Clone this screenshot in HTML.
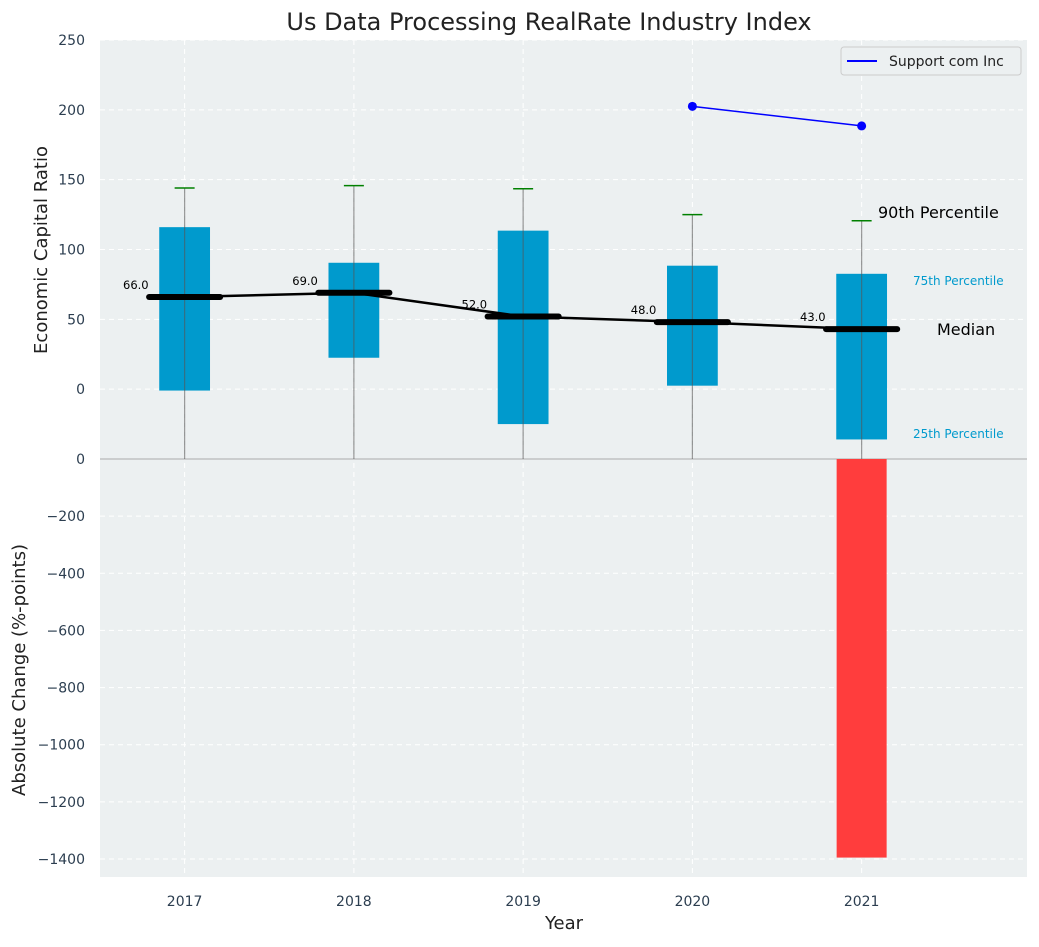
<!DOCTYPE html>
<html><head><meta charset="utf-8"><style>
body{margin:0;background:#fff;font-family:"Liberation Sans","DejaVu Sans",sans-serif}
svg text{font-family:"DejaVu Sans","Liberation Sans",sans-serif}
</style></head><body>
<svg id="c" width="1039" height="942" xmlns="http://www.w3.org/2000/svg"></svg>
<script>
const years=[2017,2018,2019,2020,2021];
const p25=[-1,22.5,-25,2.5,-36];
const p75=[116,90.5,113.5,88.4,82.6];
const p90=[144,145.7,143.5,125,120.6];
const medians=[66,69,52,48,43];
const companyYears=[2020,2021];
const companyValues=[202.5,188.5];
const changeYears=[2021];
const changeValues=[-1395];
const topTicks=[0,50,100,150,200,250];
const botTicks=[0,-200,-400,-600,-800,-1000,-1200,-1400];

const L=100,R=1027,X0=2016.5,X1=2021.977;
const x=v=>L+(v-X0)/(X1-X0)*(R-L);
const yT=v=>459-(v+50)/300*419;
const yB=v=>459-v/1463*418;
const S=document.getElementById('c');
const NS='http://www.w3.org/2000/svg';
function mk(t,a,txt){const e=document.createElementNS(NS,t);for(const k in a)e.setAttribute(k,a[k]);if(txt!==undefined)e.textContent=txt;S.appendChild(e);return e;}
let e;
e=mk('rect',{x:L,y:40,width:R-L,height:419,fill:'#ecf0f1'});
e=mk('rect',{x:L,y:459,width:R-L,height:418,fill:'#ecf0f1'});
years.forEach(v=>{e=mk('line',{x1:x(v),x2:x(v),y1:40,y2:877,stroke:'#fff','stroke-dasharray':'5,4','stroke-width':1});
 e=mk('text',{x:x(v),y:906,'text-anchor':'middle','font-size':14,fill:'#2c3e50'},v);});
topTicks.forEach(v=>{e=mk('line',{x1:L,x2:R,y1:yT(v),y2:yT(v),stroke:'#fff','stroke-dasharray':'5,4'});
 e=mk('text',{x:85,y:yT(v)+5,'text-anchor':'end','font-size':14,fill:'#2c3e50'},v);});
botTicks.forEach(v=>{e=mk('line',{x1:L,x2:R,y1:yB(v),y2:yB(v),stroke:'#fff','stroke-dasharray':'5,4'});
 e=mk('text',{x:85,y:yB(v)+5,'text-anchor':'end','font-size':14,fill:'#2c3e50'},v===0?'0':'\u2212'+(-v));});
e=mk('line',{x1:L,x2:R,y1:459,y2:459,stroke:'#aaa'});
const pxPerYear=(R-L)/(X1-X0);
const bw=0.3*pxPerYear;
years.forEach((v,i)=>{
 e=mk('rect',{x:x(v)-bw/2,y:yT(p75[i]),width:bw,height:yT(p25[i])-yT(p75[i]),fill:'#009acd'});
 e=mk('line',{x1:x(v),x2:x(v),y1:459,y2:yT(p90[i]),stroke:'#555','stroke-opacity':0.6,'stroke-width':1.2});
 e=mk('line',{x1:x(v)-10,x2:x(v)+10,y1:yT(p90[i]),y2:yT(p90[i]),stroke:'green','stroke-width':1.5});
});
e=mk('polyline',{points:years.map((v,i)=>x(v)+','+yT(medians[i])).join(' '),fill:'none',stroke:'#000','stroke-width':2.5});
const mw=0.21*pxPerYear;
years.forEach((v,i)=>{
 e=mk('line',{x1:x(v)-mw,x2:x(v)+mw,y1:yT(medians[i]),y2:yT(medians[i]),stroke:'#000','stroke-width':6,'stroke-linecap':'round'});
 e=mk('text',{x:x(v)-36,y:yT(medians[i])-8,'text-anchor':'end','font-size':11.5,fill:'#000'},medians[i].toFixed(1));
});
e=mk('polyline',{points:companyYears.map((v,i)=>x(v)+','+yT(companyValues[i])).join(' '),fill:'none',stroke:'blue','stroke-width':1.5});
companyYears.forEach((v,i)=>{e=mk('circle',{cx:x(v),cy:yT(companyValues[i]),r:4.5,fill:'blue'});});
changeYears.forEach((v,i)=>{e=mk('rect',{x:x(v)-25,y:yB(0),width:50,height:yB(changeValues[i])-yB(0),fill:'#ff3d3d'});});
e=mk('text',{x:878,y:218,'font-size':16,fill:'#000'},'90th Percentile');
e=mk('text',{x:913,y:285,'font-size':12,fill:'#009acd'},'75th Percentile');
e=mk('text',{x:937,y:335,'font-size':16,fill:'#000'},'Median');
e=mk('text',{x:913,y:438,'font-size':12,fill:'#009acd'},'25th Percentile');
e=mk('rect',{x:841,y:47,width:180,height:28,fill:'#ecf0f1',stroke:'#ccc',rx:3});
e=mk('line',{x1:847,x2:877,y1:61,y2:61,stroke:'blue','stroke-width':2});
e=mk('text',{x:889,y:66,'font-size':14,fill:'#222'},'Support com Inc');
e=mk('text',{x:549,y:30,'text-anchor':'middle','font-size':24,fill:'#222'},'Us Data Processing RealRate Industry Index');
e=mk('text',{x:564,y:929,'text-anchor':'middle','font-size':18,fill:'#222'},'Year');
e=mk('text',{x:0,y:0,'text-anchor':'middle','font-size':18,fill:'#222',transform:'translate(47,250) rotate(-90)'},'Economic Capital Ratio');
e=mk('text',{x:0,y:0,'text-anchor':'middle','font-size':18,fill:'#222',transform:'translate(25,670) rotate(-90)'},'Absolute Change (%-points)');
</script>
</body></html>
